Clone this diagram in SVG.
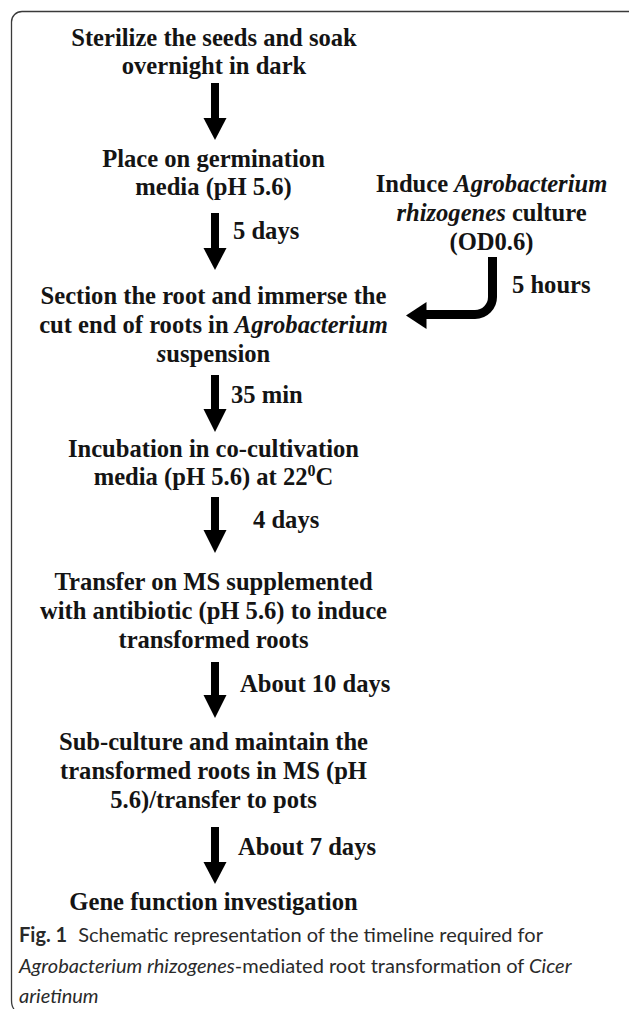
<svg xmlns="http://www.w3.org/2000/svg" width="630" height="1009" viewBox="0 0 630 1009">
<style>
.t{font-family:"Liberation Serif","Times New Roman",serif;font-weight:bold;font-size:24.6px;fill:#141414}
.c{text-anchor:middle}
.i{font-style:italic}
.cap{font-family:Lato,"Open Sans",sans-serif;font-size:20px;fill:#2a2a2a}
.frame{fill:none;stroke:#3a3a3a;stroke-width:1.3}
.ar{fill:#000}
</style>
<rect width="630" height="1009" fill="#fff"/>
<path class="frame" d="M629 11.5 H22 A10.5 10.5 0 0 0 11.5 22 V1000 Q11.5 1006.5 14 1009"/>

<g id="n1"><text class="t c" x="214" y="46">Sterilize the seeds and soak</text><text class="t c" x="214" y="74">overnight in dark</text></g>
<g id="n2"><text class="t c" x="213.5" y="167">Place on germination</text><text class="t c" x="213.5" y="195">media (pH 5.6)</text></g>
<g id="n3"><text class="t c" x="213.5" y="304">Section the root and immerse the</text><text class="t c" x="213.5" y="333">cut end of roots in <tspan class="i">Agrobacterium</tspan></text><text class="t c" x="213.5" y="362"><tspan class="i">s</tspan>uspension</text></g>
<g id="n4"><text class="t c" x="213.5" y="457">Incubation in co-cultivation</text><text class="t c" x="213.5" y="485">media (pH 5.6) at 22<tspan dy="-9" font-size="16">0</tspan><tspan dy="9">C</tspan></text></g>
<g id="n5"><text class="t c" x="213.5" y="590">Transfer on MS supplemented</text><text class="t c" x="213.5" y="619">with antibiotic (pH 5.6) to induce</text><text class="t c" x="213.5" y="648">transformed roots</text></g>
<g id="n6"><text class="t c" x="213.5" y="750">Sub-culture and maintain the</text><text class="t c" x="213.5" y="779">transformed roots in MS (pH</text><text class="t c" x="213.5" y="808">5.6)/transfer to pots</text></g>
<g id="n7"><text class="t c" x="213.5" y="910">Gene function investigation</text></g>
<g id="n8"><text class="t c" x="491.5" y="192">Induce <tspan class="i">Agrobacterium</tspan></text><text class="t c" x="491.5" y="221"><tspan class="i">rhizogenes</tspan> culture</text><text class="t c" x="491.5" y="250">(OD0.6)</text></g>

<g id="connectors">
<rect class="ar" x="211" y="83" width="8" height="36"/><polygon class="ar" points="203.5,118 226.5,118 215,140"/>
<rect class="ar" x="211" y="213" width="8" height="36"/><polygon class="ar" points="203.5,248 226.5,248 215,270"/>
<text class="t" x="233" y="239">5 days</text>
<rect class="ar" x="211" y="375" width="8" height="35"/><polygon class="ar" points="203.5,409 226.5,409 215,432"/>
<text class="t" x="231" y="403">35 min</text>
<rect class="ar" x="211" y="497" width="8" height="34"/><polygon class="ar" points="203.5,530 226.5,530 215,553"/>
<text class="t" x="253" y="528">4 days</text>
<rect class="ar" x="211" y="662" width="8" height="34"/><polygon class="ar" points="203.5,695 226.5,695 215,718"/>
<text class="t" x="240" y="692">About 10 days</text>
<rect class="ar" x="211" y="827" width="8" height="36"/><polygon class="ar" points="203.5,862 226.5,862 215,884"/>
<text class="t" x="238" y="855">About 7 days</text>
<path d="M492.5 257 V297 A17.5 17.5 0 0 1 475 314.5 H424" fill="none" stroke="#000" stroke-width="9"/>
<polygon class="ar" points="406,315.5 426.5,302 426.5,329"/>
<text class="t" x="512" y="293">5 hours</text>
</g>

<g id="caption">
<text class="cap" x="19" y="942"><tspan font-weight="bold">Fig. 1</tspan><tspan dx="11">Schematic representation of the timeline required for</tspan></text>
<text class="cap" x="19" y="973"><tspan font-style="italic">Agrobacterium rhizogenes</tspan>-mediated root transformation of <tspan font-style="italic">Cicer</tspan></text>
<text class="cap" x="19" y="1003"><tspan font-style="italic">arietinum</tspan></text>
</g>
</svg>
